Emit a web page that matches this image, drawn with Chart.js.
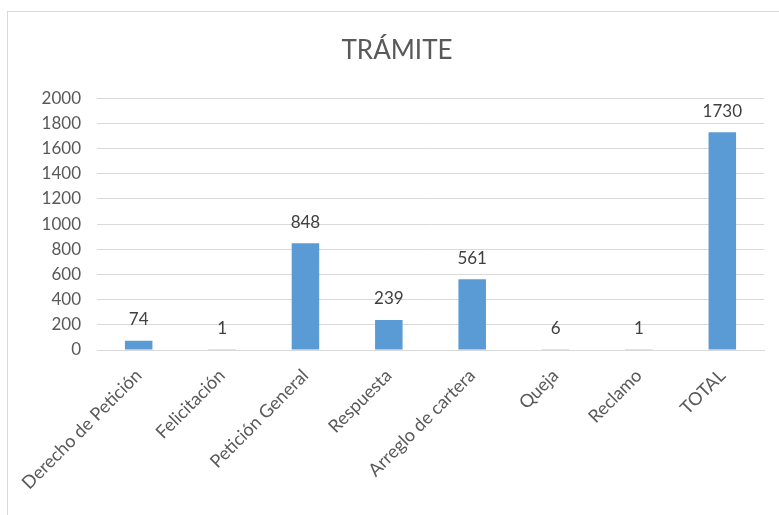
<!DOCTYPE html>
<html>
<head>
<meta charset="utf-8">
<script src="https://cdn.jsdelivr.net/npm/chart.js@4/dist/chart.umd.min.js"></script>
<style>
  html, body { margin: 0; padding: 0; background: #fff; overflow: hidden; }
  #wrap { position: relative; width: 779px; height: 515px; }
  #frame { position: absolute; left: 7px; top: 11px; width: 820px; height: 560px; border: 1px solid #d9d9d9; }
  canvas { position: absolute; left: 0; top: 0; }
</style>
</head>
<body>
<div id="wrap">
  <div id="frame"></div>
  <canvas id="tramite" width="779" height="515"></canvas>
</div>
<script>
// datos del gráfico
var categorias = ['Derecho de Petición', 'Felicitación', 'Petición General', 'Respuesta', 'Arreglo de cartera', 'Queja', 'Reclamo', 'TOTAL'];
var cantidades = [74, 1, 848, 239, 561, 6, 1, 1730];
var ticksY = [0, 200, 400, 600, 800, 1000, 1200, 1400, 1600, 1800, 2000];

Chart.defaults.font.family = 'Lato';

// etiquetas de valor encima de cada barra
const etiquetas = {
    id: 'etiquetas',
    afterDatasetsDraw(chart) {
        const c = chart.ctx;
        const meta = chart.getDatasetMeta(0);
        c.save();
        c.font = '17px Lato';
        c.fillStyle = '#404040';
        c.textAlign = 'center';
        c.textBaseline = 'middle';
        meta.data.forEach(function(bar, i) {
            c.fillText(String(cantidades[i]), bar.x, bar.y - 21);
        });
        c.restore();
    }
};

var ctx = document.getElementById('tramite');
const myChart = new Chart(ctx, {
    type: 'bar',
    data: {
        labels: categorias,
        datasets: [{
            data: cantidades,
            backgroundColor: '#5B9BD5',
            barPercentage: 0.33,
            categoryPercentage: 1
        }]
    },
    options: {
        responsive: false,
        animation: false,
        layout: {
            padding: { left: 30, right: 15, top: 0, bottom: 0 }
        },
        plugins: {
            legend: { display: false },
            tooltip: { enabled: false },
            title: {
                display: true,
                text: 'TRÁMITE',
                color: '#595959',
                font: { size: 26, weight: 'normal' },
                padding: { top: 35, bottom: 32 }
            }
        },
        scales: {
            x: {
                grid: { display: false, drawTicks: false },
                border: { display: true, color: '#d9d9d9', width: 1 },
                ticks: {
                    color: '#595959',
                    font: { size: 18 },
                    maxRotation: 45,
                    minRotation: 45,
                    autoSkip: false,
                    padding: 15
                },
                afterFit: function(scale) {
                    scale.height = 165;
                    scale.paddingLeft = 0;
                    scale.paddingRight = 0;
                }
            },
            y: {
                min: 0,
                max: 2000,
                afterBuildTicks: function(scale) {
                    scale.ticks = ticksY.map(function(v) { return { value: v }; });
                },
                grid: { color: '#d9d9d9', lineWidth: 1, drawTicks: false },
                border: { display: false },
                ticks: {
                    color: '#595959',
                    font: { size: 17 },
                    padding: 16,
                    callback: function(v) { return String(v); }
                },
                afterFit: function(scale) {
                    scale.width = 67;
                }
            }
        }
    },
    plugins: [etiquetas]
});
</script>
</body>
</html>
